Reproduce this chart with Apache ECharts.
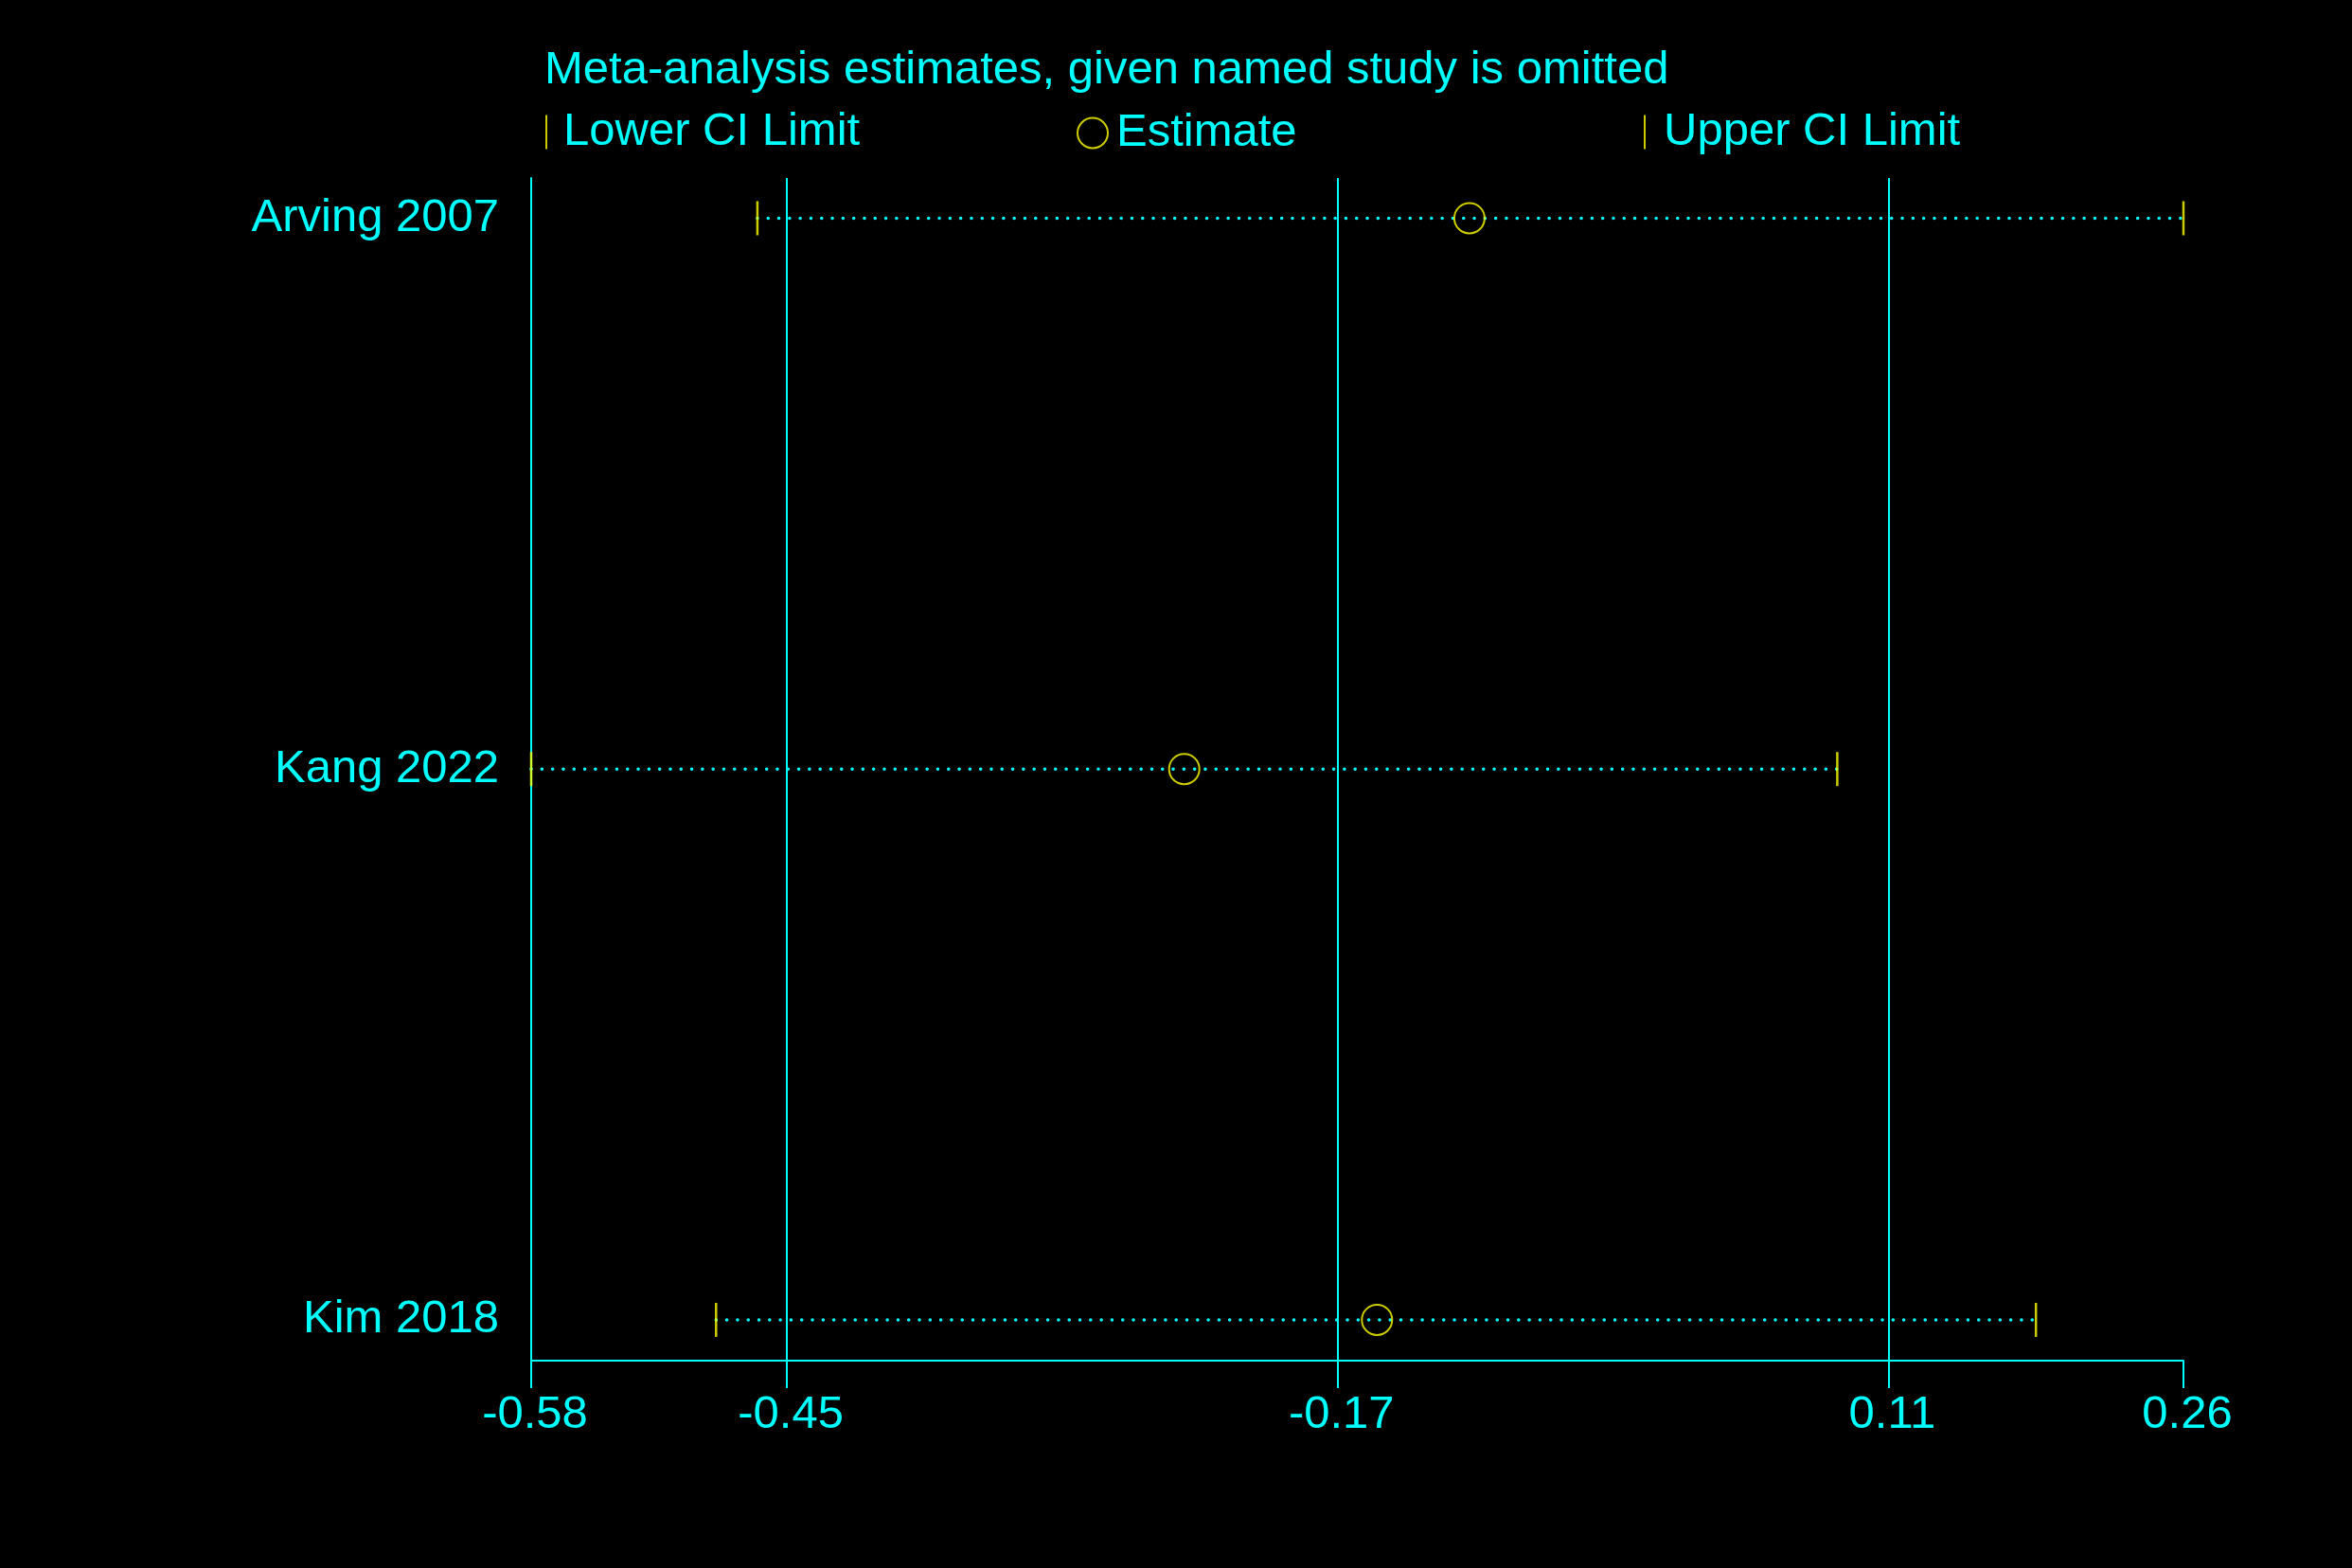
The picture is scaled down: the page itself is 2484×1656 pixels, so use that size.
<!DOCTYPE html>
<html>
<head>
<meta charset="utf-8">
<script src="https://cdn.jsdelivr.net/npm/echarts@6/dist/echarts.min.js"></script>
<style>
  html, body { margin: 0; padding: 0; background: #000; }
  #main { width: 2484px; height: 1656px; }
</style>
</head>
<body>
<div id="main"></div>
<script>
// studies, top to bottom; row position on the y axis
var studies = ['Arving 2007', 'Kang 2022', 'Kim 2018'];
var rows = [3, 2, 1];
var lower = [-0.465, -0.58, -0.486];
var estimate = [-0.103, -0.248, -0.150];
var upper = [0.26, 0.084, 0.185];

// x axis ticks and the vertical reference lines
var xTicks = [-0.58, -0.45, -0.17, 0.11, 0.26];
var refLines = [-0.45, -0.17, 0.11];

var CYAN = '#00ffff';
var YELLOW = '#ffff00';
var FONT = 'Liberation Sans';

var chart = echarts.init(document.getElementById('main'));

function pts(vals) {
    return vals.map(function (v, i) { return [v, rows[i]]; });
}

// dotted line from lower to upper, broken between studies
var ciLine = [];
for (var i = 0; i < studies.length; i++) {
    ciLine.push([lower[i], rows[i]], [upper[i], rows[i]], '-');
}

var option = {
    backgroundColor: '#000',
    animation: false,
    title: {
        text: 'Meta-analysis estimates, given named study is omitted',
        left: 570,
        top: 45,
        textStyle: { color: CYAN, fontFamily: FONT, fontSize: 49, fontWeight: 'normal' }
    },
    legend: [
        {
            data: [{ name: 'Lower CI Limit', icon: 'rect' }],
            left: 571, top: 110,
            itemWidth: 2, itemHeight: 36, itemGap: 0,
            textStyle: { color: CYAN, fontFamily: FONT, fontSize: 49, padding: [0, 0, 0, 12] },
            selectedMode: false
        },
        {
            data: [{ name: 'Estimate', icon: 'circle',
                     itemStyle: { color: 'rgba(0,0,0,0)', borderColor: YELLOW, borderWidth: 2 } }],
            left: 1132, top: 111,
            itemWidth: 32, itemHeight: 32,
            textStyle: { color: CYAN, fontFamily: FONT, fontSize: 49, padding: [0, 0, 0, 4] },
            selectedMode: false
        },
        {
            data: [{ name: 'Upper CI Limit', icon: 'rect' }],
            left: 1731, top: 110,
            itemWidth: 2, itemHeight: 36,
            textStyle: { color: CYAN, fontFamily: FONT, fontSize: 49, padding: [0, 0, 0, 14] },
            selectedMode: false
        }
    ],
    grid: { left: 561, right: 178, top: 188, bottom: 219 },
    xAxis: {
        type: 'value',
        min: -0.58,
        max: 0.26,
        axisLine: { show: true, onZero: false, lineStyle: { color: CYAN, width: 2 } },
        axisTick: { show: true, customValues: xTicks, length: 29, lineStyle: { color: CYAN, width: 2 } },
        axisLabel: {
            customValues: xTicks,
            color: CYAN, fontFamily: FONT, fontSize: 49, margin: 33,
            padding: [0, 0, 0, 8],
            formatter: function (v) { return v.toFixed(2); }
        },
        splitLine: { show: false }
    },
    yAxis: {
        type: 'value',
        min: 0.926,
        max: 3.073,
        axisLine: { show: true, onZero: false, lineStyle: { color: CYAN, width: 2 } },
        axisTick: { show: false },
        axisLabel: {
            customValues: rows,
            color: CYAN, fontFamily: FONT, fontSize: 49, margin: 34,
            formatter: function (v) { return studies[rows.indexOf(Math.round(v))] || ''; }
        },
        splitLine: { show: false }
    },
    series: [
        {
            name: 'ref',
            type: 'line',
            data: [],
            silent: true,
            markLine: {
                symbol: 'none',
                label: { show: false },
                lineStyle: { color: CYAN, width: 2, type: 'solid' },
                data: refLines.map(function (v) { return { xAxis: v }; })
            }
        },
        {
            name: 'ci',
            type: 'line',
            data: ciLine,
            symbol: 'none',
            connectNulls: false,
            lineStyle: { color: CYAN, width: 3.5, type: [0.1, 11.2], cap: 'round' },
            z: 2
        },
        {
            name: 'Lower CI Limit',
            type: 'scatter',
            data: pts(lower),
            symbol: 'rect',
            symbolSize: [2.5, 36],
            itemStyle: { color: YELLOW },
            z: 5
        },
        {
            name: 'Estimate',
            type: 'scatter',
            data: pts(estimate),
            symbol: 'circle',
            symbolSize: 32,
            itemStyle: { color: 'rgba(0,0,0,0)', borderColor: YELLOW, borderWidth: 2 },
            z: 4
        },
        {
            name: 'Upper CI Limit',
            type: 'scatter',
            data: pts(upper),
            symbol: 'rect',
            symbolSize: [2.5, 36],
            itemStyle: { color: YELLOW },
            z: 5
        }
    ]
};

chart.setOption(option);
</script>
</body>
</html>
